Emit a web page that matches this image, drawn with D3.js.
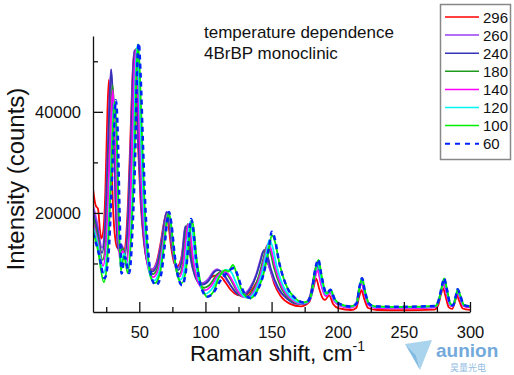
<!DOCTYPE html>
<html>
<head>
<meta charset="utf-8">
<script src="https://cdn.jsdelivr.net/npm/d3@7"></script>
<style>
   body { margin: 0; background: #fff; }
   svg { display: block; font-family: Arial, 'Liberation Sans', sans-serif; }
</style>
</head>
<body>
<div id="chart"></div>
<script>

// TEMPERATURES (LEGEND ORDER)
var temps = ['296', '260', '240', '180', '140', '120', '100', '60'];

// SPECTRA: [RAMAN SHIFT cm-1, COUNTS]
var s296 = [[15,24800],[17,21500],[18.8,20800],[20.3,16500],[21.2,14900],[22.8,16500],[24.3,24000],[25.4,35000],[26.9,46300],[28.4,36000],[30,22000],[32,14500],[33.6,13000],[35.8,13800],[38.4,12700],[41,19500],[43.1,33500],[44.7,46000],[46,51600],[47.4,45500],[49,33500],[51,22000],[53.4,14400],[56.3,10000],[59.2,8700],[63,10200],[66.3,14300],[68.6,18000],[70,19600],[71.9,17800],[74.2,13000],[76.5,10000],[78.6,9400],[81.5,10800],[83.6,14200],[85.5,16500],[87.3,15000],[89.5,10800],[92.5,7600],[95.5,6300],[98.2,6000],[103,7000],[107,7600],[111,7500],[115,6300],[119,4800],[124,3800],[129,3600],[134.5,4600],[140,7000],[143.5,9200],[146,10300],[148.5,9200],[152,6000],[157,3500],[164,2000],[172,1500],[178.5,2400],[181.5,5000],[183.7,7000],[186,5000],[189,3000],[190.5,2800],[193.5,3700],[196.5,2000],[201,1100],[210,800],[214,1200],[216.3,3500],[218,4700],[219.8,3200],[223,1200],[230,800],[250,750],[273,850],[276,1800],[278.2,4000],[279.6,5100],[281.5,3500],[284,1300],[286.5,1000],[289,2800],[290,3700],[291.8,2600],[294.5,1100],[300,800]];

var s260 = [[15,21500],[18,18200],[21.8,13100],[24,17600],[25.4,26500],[27.1,40300],[28.6,48400],[30.2,40300],[31.8,23500],[33.9,13100],[36.2,13800],[39.2,12300],[41.6,20500],[43.5,34400],[44.9,46300],[46.2,52200],[47.6,46300],[49.2,34400],[51.2,22500],[53.6,14600],[56.6,9900],[59.6,8900],[63.4,10300],[66.8,14600],[69.1,18600],[70.6,20200],[72.5,18000],[74.7,13100],[77,10000],[79.3,9100],[82,11100],[83.5,15000],[84.6,17200],[86.1,16200],[88.3,11700],[91.4,8100],[94.4,6500],[97.4,6100],[102,6900],[105.7,8300],[108.8,8900],[111.8,8300],[115.6,6900],[120,5300],[124.6,4000],[128.4,4000],[133.7,5200],[138.2,7700],[141.3,10500],[143.5,12300],[145.8,11500],[148.8,8700],[154.1,5300],[160.9,3200],[168.4,2200],[175.3,2200],[179,3600],[182,7500],[184.3,9900],[186.6,7100],[189.6,4200],[191,3700],[194.2,4400],[197.2,2800],[201.7,1800],[209.3,1400],[213.8,2000],[216.1,5000],[218,6500],[220,4500],[223,2000],[228,1400],[250,1200],[273.5,1400],[276,2400],[278.6,5000],[280.1,6300],[282,4600],[284.5,2000],[286.8,1600],[289.5,3700],[290.4,4500],[292.3,3400],[295,1700],[300,1400]];

var s240 = [[15,20300],[18,17000],[21.8,12100],[24.2,17000],[25.6,26500],[27.3,40300],[28.8,48400],[30.4,40300],[32,23000],[34.1,12500],[36.4,13400],[39.4,11800],[41.8,20300],[43.7,34400],[45.1,46300],[46.4,52200],[47.8,46300],[49.4,34000],[51.4,22000],[53.8,14000],[56.8,9400],[59.8,8400],[63.6,9800],[67,14400],[69.4,18700],[70.9,20200],[72.8,18000],[75,12800],[77.3,9600],[79.6,8700],[82.3,10800],[83.8,15000],[84.9,17400],[86.4,16300],[88.6,11500],[91.7,7800],[94.7,6200],[97.7,5800],[102.5,6600],[106.2,8200],[109.8,8700],[113,8200],[116.5,6800],[120.5,5100],[125,3800],[129,3700],[134.2,5100],[138.8,7900],[142,10800],[144.3,12700],[146.6,11800],[149.6,8800],[155,5200],[162,3000],[169,2000],[175.5,2000],[179.2,3500],[182.2,7600],[184.5,10000],[186.8,7100],[189.8,4200],[191.2,3700],[194.3,4400],[197.3,2700],[201.8,1700],[209.5,1300],[214,1900],[216.2,5000],[218.1,6700],[220.1,4500],[223.2,1900],[228,1300],[250,1150],[273.5,1350],[276.1,2400],[278.7,5100],[280.2,6500],[282.1,4700],[284.6,2000],[286.9,1550],[289.6,3800],[290.5,4600],[292.4,3400],[295.1,1650],[300,1350]];

var s180 = [[15,19200],[18.3,15500],[22.3,10700],[24.8,15500],[26.4,25000],[28.2,38000],[29.8,45300],[31.4,38000],[33,22000],[35,12000],[37.4,13000],[40.2,10800],[42.8,19500],[44.8,34000],[46.1,46500],[47.4,52500],[48.8,46500],[50.5,34000],[52.5,21500],[54.8,13200],[57.6,8700],[60.4,7900],[64.2,9400],[67.6,14000],[70,18500],[71.4,20000],[73.3,17800],[75.5,12500],[77.8,9000],[80.2,7900],[83,10200],[84.8,14800],[86.4,17800],[88,16200],[90.2,11000],[93.2,7200],[96.2,5600],[99,5200],[104,6000],[108.5,7800],[112.5,8400],[116,8000],[119.5,6600],[123.5,4700],[127.5,3500],[131,3400],[136,4700],[140.5,7600],[144,11200],[146.5,13500],[148.8,12500],[151.8,9200],[157,5300],[164,2900],[171,2100],[176,2200],[179.5,3600],[182.5,7800],[184.9,10200],[187.1,7200],[190,4300],[191.4,3800],[194.4,4500],[197.4,2700],[202,1700],[209.5,1300],[214,1900],[216.3,5000],[218.2,6800],[220.2,4500],[223.3,1900],[228,1300],[250,1200],[273.5,1400],[276.2,2500],[278.8,5200],[280.3,6600],[282.2,4800],[284.7,2000],[287,1550],[289.7,3900],[290.6,4700],[292.5,3500],[295.2,1650],[300,1400]];

var s140 = [[15,18200],[18.5,14500],[22.6,9500],[25,14500],[26.6,24500],[28.4,37500],[29.9,44300],[31.5,37000],[33.1,21500],[35.1,11000],[37.6,12500],[40.5,10000],[42.8,18500],[44.6,33500],[45.9,46000],[47.2,52200],[48.6,46300],[50.3,34000],[52.4,21300],[54.8,12800],[57.7,8200],[60.6,7300],[64.4,8900],[67.8,13800],[70.2,18500],[71.6,20000],[73.5,17800],[75.7,12300],[78,8600],[80.4,7400],[83.3,9800],[85.2,14600],[86.9,17800],[88.5,16200],[90.7,10800],[93.7,6900],[96.7,5200],[99.4,4700],[104.5,5600],[109,7500],[113.5,8400],[117,8000],[120.5,6500],[124.5,4500],[128.5,3400],[132,3300],[137,4700],[141.5,7700],[145,11500],[147.3,13900],[149.6,12800],[152.6,9400],[158,5300],[165,2900],[172,2100],[176.5,2200],[179.7,3300],[182.6,6800],[184.8,8700],[187,6300],[189.9,3900],[191.3,3500],[194.2,4300],[197.2,2600],[201.8,1600],[209.5,1200],[214,1800],[216.2,4600],[218.1,6200],[220.1,4200],[223.2,1800],[228,1200],[250,1100],[273.5,1300],[276,2400],[278.6,4900],[280,6100],[281.9,4500],[284.5,1900],[286.8,1500],[289.5,3600],[290.4,4400],[292.3,3300],[295,1600],[300,1300]];

var s120 = [[15,17400],[18.8,13500],[23,8100],[25.8,13000],[27.7,23000],[29.6,35500],[31.2,42000],[32.8,35000],[34.2,20500],[35.9,10000],[38.5,12000],[41.5,9000],[44,18000],[46,33500],[47.1,46500],[48.3,53000],[49.7,46800],[51.4,34000],[53.4,21000],[55.7,12300],[58.4,7500],[61.1,6600],[65,8300],[68.3,13500],[70.7,18500],[72.1,20000],[74,17600],[76.2,12000],[78.7,8000],[81.3,6800],[84.5,9500],[86.6,14700],[88.4,18200],[90,16500],[92.2,11000],[95,6700],[97.8,4700],[100,4000],[105,5000],[110,7300],[115.5,8800],[119.5,8300],[122.5,6600],[126,4600],[129.5,3400],[132.5,3200],[138,4700],[142.5,7800],[146,12000],[148.3,14600],[150.6,13400],[153.6,9800],[159,5400],[166,3000],[172.5,2200],[176.8,2300],[179.9,3500],[182.8,8000],[185,10300],[187.2,7300],[190.1,4300],[191.5,3900],[194.4,4600],[197.4,2800],[202,1800],[209.5,1400],[214.2,2000],[216.4,5200],[218.3,7000],[220.3,4600],[223.4,2000],[228,1400],[250,1300],[273.5,1500],[276.2,2600],[278.8,5500],[280.3,6900],[282.2,5000],[284.7,2100],[287,1650],[289.7,4000],[290.6,4800],[292.5,3600],[295.2,1750],[300,1500]];

var s100 = [[15,16600],[18.8,12500],[23.2,6300],[26,11500],[27.9,22000],[29.8,35000],[31.4,42000],[33,35000],[34.4,20000],[36,8500],[38.4,11500],[41.3,8100],[44.3,17500],[46.6,33500],[47.8,47000],[49.1,53400],[50.5,47000],[52.2,34000],[54.2,20500],[56.5,11800],[59,7000],[61.7,6100],[65.5,7900],[68.6,13300],[70.8,18300],[72.2,20000],[74.1,17600],[76.4,11800],[79,7500],[82,6100],[85.4,9000],[87.7,14500],[89.6,18600],[91.2,16700],[93.3,11000],[96,6500],[98.8,4300],[101,3400],[106,4400],[110.5,7400],[114.8,8700],[117.3,8400],[120.8,9700],[123.8,7800],[127,5000],[130.5,3500],[134,3100],[139.5,4800],[144,8000],[147.8,12500],[150.2,15600],[152.6,14300],[155.6,10400],[161,5700],[168,3100],[174,2300],[177.2,2500],[180.2,4000],[183.2,8800],[185.5,10700],[187.7,7800],[190.6,4500],[192,4100],[194.6,4800],[197.7,3000],[202.5,1900],[209.7,1500],[214.4,2100],[216.6,5400],[218.5,7100],[220.5,4700],[223.6,2100],[228.5,1500],[250,1400],[273.8,1600],[276.5,2800],[279,5700],[280.5,7060],[282.4,5200],[284.9,2200],[287.2,1700],[289.9,4100],[290.8,4900],[292.7,3700],[295.4,1800],[300,1500]];

var s60 = [[15,16000],[19.2,12200],[23.8,7100],[26.8,12000],[28.7,22500],[30.7,35000],[32.3,42300],[33.8,35000],[35.1,20000],[36.6,8000],[39,11300],[42.3,8100],[45,17500],[47.1,33500],[48.2,47000],[49.6,53600],[51,47200],[52.7,34200],[54.7,20600],[57,11500],[60,6600],[62.7,5700],[66.3,7600],[69,13000],[71,18300],[72.4,20200],[74.3,17800],[76.7,11800],[79.5,7200],[82.3,5700],[85.4,8800],[87.3,14500],[89.1,18800],[90.7,17000],[92.8,11200],[95.6,6500],[98.6,4100],[101,3400],[106,4200],[111,6500],[115.5,7900],[119.5,8900],[121.6,9100],[124,7900],[127.3,5300],[130.8,3600],[134.3,3100],[140,5000],[144.5,8500],[148,13200],[150.2,16300],[152.5,14800],[155.5,10500],[161,5700],[168,3100],[174,2300],[177.2,2500],[180.2,4100],[183.1,9000],[185.3,10800],[187.5,7900],[190.5,4500],[191.9,4100],[194.5,4800],[197.6,3000],[202.3,1900],[209.7,1500],[214.3,2100],[216.5,5400],[218.4,7100],[220.4,4700],[223.5,2100],[228.5,1500],[250,1450],[273.7,1600],[276.4,2800],[278.9,5700],[280.4,7100],[282.3,5200],[284.8,2200],[287.1,1700],[289.8,4100],[290.6,4900],[292.6,3700],[295.3,1800],[300,1500]];

// AXIS TICKS
var xMajor = [50, 100, 150, 200, 250, 300];
var xMinor = [25, 75, 125, 175, 225, 275];
var yMajor = [20000, 40000];
var yMinor = [10000, 30000, 50000];

// SERIES LOOKUP + STYLES
var spectra = { '296': s296, '260': s260, '240': s240, '180': s180, '140': s140, '120': s120, '100': s100, '60': s60 };
var colors = { '296': '#ff0000', '260': '#9b3cf5', '240': '#3434b4', '180': '#1f9a1f', '140': '#ff00ff', '120': '#00f5f5', '100': '#00ee00', '60': '#0022ff' };

// CANVAS
var width = 514, height = 375;
var svg = d3.select('#chart').append('svg')
   .attr('width', width)
   .attr('height', height);

// SCALES
var xScale = d3.scaleLinear().domain([15, 300]).range([93, 470]);
var yScale = d3.scaleLinear().domain([400, 55000]).range([312, 36]);

// LINE GENERATOR
var line = d3.line()
   .x(d => xScale(d[0]))
   .y(d => yScale(d[1]))
   .curve(d3.curveMonotoneX);

// CLIP TO PLOT AREA
svg.append('clipPath').attr('id', 'plot')
   .append('rect').attr('x', 93).attr('y', 30).attr('width', 378).attr('height', 282);

// DRAW SPECTRA
var plot = svg.append('g').attr('clip-path', 'url(#plot)');
temps.forEach(t => {
   plot.append('path')
      .attr('d', line(spectra[t]))
      .attr('fill', 'none')
      .attr('stroke', colors[t])
      .attr('stroke-width', t == '60' ? 2.5 : 1.8)
      .attr('stroke-dasharray', t == '60' ? '5,4' : null)
      .attr('stroke-linejoin', 'round');
});

// X AXIS
svg.append('g')
   .attr('transform', 'translate(0,312)')
   .call(d3.axisBottom(xScale).tickValues(xMajor).tickSize(-10).tickSizeOuter(0).tickPadding(14));
svg.append('g')
   .attr('transform', 'translate(0,312)')
   .call(d3.axisBottom(xScale).tickValues(xMinor).tickSize(-5).tickSizeOuter(0).tickFormat(''))
   .select('.domain').remove();

// Y AXIS
svg.append('g')
   .attr('transform', 'translate(93,0)')
   .call(d3.axisLeft(yScale).tickValues(yMajor).tickSize(-10).tickSizeOuter(0).tickPadding(12).tickFormat(d3.format('d')));
svg.append('g')
   .attr('transform', 'translate(93,0)')
   .call(d3.axisLeft(yScale).tickValues(yMinor).tickSize(-5).tickSizeOuter(0).tickFormat(''))
   .select('.domain').remove();

// AXIS STYLING
svg.selectAll('.domain, .tick line').attr('stroke', '#111').attr('stroke-width', 1.3);
svg.selectAll('.tick text').attr('font-size', 16.5).attr('fill', '#111')
   .attr('font-family', "Arial, 'Liberation Sans', sans-serif");

// AXIS TITLES
svg.append('text')
   .attr('transform', 'translate(24,179) rotate(-90)')
   .attr('text-anchor', 'middle')
   .attr('font-size', 24)
   .attr('fill', '#111')
   .text('Intensity (counts)');

var xTitle = svg.append('text')
   .attr('x', 190).attr('y', 361)
   .attr('font-size', 22.5)
   .attr('fill', '#111');
xTitle.append('tspan').text('Raman shift, cm');
xTitle.append('tspan').attr('font-size', 14).attr('dy', -10).text('-1');

// ANNOTATION
svg.append('text').attr('x', 204).attr('y', 38).attr('font-size', 17).attr('fill', '#111').text('temperature dependence');
svg.append('text').attr('x', 204).attr('y', 59).attr('font-size', 17).attr('fill', '#111').text('4BrBP monoclinic');

// LEGEND
var legend = svg.append('g');
legend.append('rect')
   .attr('x', 440.5).attr('y', 4.5).attr('width', 70).attr('height', 155)
   .attr('fill', 'none').attr('stroke', '#888').attr('stroke-width', 1.5);
temps.forEach((t, i) => {
   var ly = 17 + i * 18.1;
   legend.append('line')
      .attr('x1', 445).attr('x2', 479).attr('y1', ly).attr('y2', ly)
      .attr('stroke', colors[t])
      .attr('stroke-width', t == '60' ? 2 : 1.5)
      .attr('stroke-dasharray', t == '60' ? '5,5' : null);
   legend.append('text')
      .attr('x', 483).attr('y', ly + 5.5)
      .attr('font-size', 15).attr('fill', '#111')
      .text(t);
});

// WATERMARK
var mark = svg.append('g').attr('opacity', 0.85);
mark.append('path')
   .attr('d', 'M405,344 L432,340 L420,370 L416,355 Z')
   .attr('fill', '#9ccdea');
mark.append('path')
   .attr('d', 'M405,344 L416,355 L420,370 Z')
   .attr('fill', '#6fb0de');
mark.append('text').attr('x', 436).attr('y', 357).attr('font-size', 19).attr('font-weight', 'bold')
   .attr('fill', '#5b9bd5').text('aunion');
mark.append('text').attr('x', 450).attr('y', 371).attr('font-size', 9)
   .attr('font-family', "'Noto Sans CJK SC', sans-serif").attr('fill', '#7fb3e0').text('昊量光电');

</script>
</body>
</html>
